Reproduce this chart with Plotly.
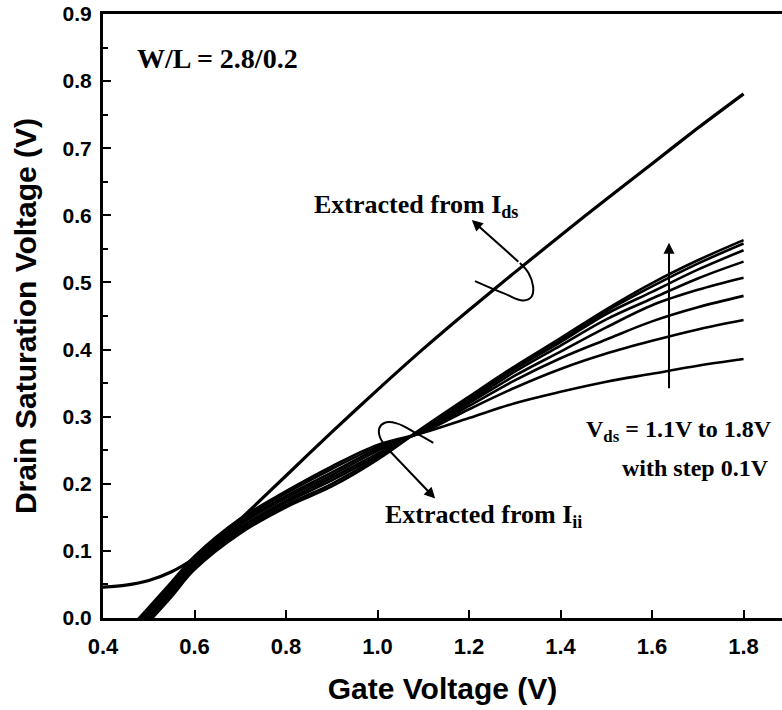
import plotly.graph_objects as go

# ---------------- data ----------------
vg_ids = [0.40, 0.45, 0.50, 0.55, 0.60, 0.65, 0.70, 0.80, 0.90, 1.00, 1.10, 1.20, 1.30, 1.40, 1.50, 1.60, 1.70, 1.80]
vdsat_ids = [0.046, 0.049, 0.056, 0.069, 0.089, 0.115, 0.147, 0.212, 0.277, 0.340, 0.401, 0.459, 0.515, 0.570, 0.624, 0.677, 0.730, 0.781]

vg_ii = [0.45, 0.50, 0.55, 0.60, 0.70, 0.80, 0.90, 1.00, 1.10, 1.20, 1.30, 1.40, 1.50, 1.60, 1.70, 1.80]
vds_labels = ["1.1", "1.2", "1.3", "1.4", "1.5", "1.6", "1.7", "1.8"]
vdsat_ii_11 = [-0.022, 0.016, 0.054, 0.092, 0.148, 0.189, 0.226, 0.258, 0.276, 0.298, 0.320, 0.337, 0.352, 0.364, 0.376, 0.386]
vdsat_ii_12 = [-0.025, 0.013, 0.051, 0.089, 0.145, 0.186, 0.222, 0.255, 0.277, 0.311, 0.343, 0.371, 0.394, 0.413, 0.430, 0.444]
vdsat_ii_13 = [-0.028, 0.010, 0.048, 0.086, 0.142, 0.182, 0.217, 0.252, 0.278, 0.316, 0.354, 0.387, 0.415, 0.442, 0.463, 0.480]
vdsat_ii_14 = [-0.031, 0.007, 0.045, 0.083, 0.139, 0.179, 0.213, 0.249, 0.279, 0.320, 0.361, 0.397, 0.433, 0.466, 0.489, 0.507]
vdsat_ii_15 = [-0.035, 0.003, 0.041, 0.081, 0.135, 0.175, 0.209, 0.245, 0.281, 0.323, 0.367, 0.406, 0.445, 0.476, 0.506, 0.531]
vdsat_ii_16 = [-0.038, 0.000, 0.038, 0.078, 0.132, 0.172, 0.205, 0.242, 0.282, 0.326, 0.371, 0.411, 0.453, 0.486, 0.519, 0.548]
vdsat_ii_17 = [-0.041, -0.003, 0.035, 0.075, 0.129, 0.168, 0.200, 0.239, 0.283, 0.328, 0.373, 0.414, 0.457, 0.494, 0.528, 0.558]
vdsat_ii_18 = [-0.044, -0.006, 0.032, 0.072, 0.126, 0.165, 0.196, 0.236, 0.284, 0.330, 0.375, 0.417, 0.460, 0.499, 0.533, 0.563]
vdsat_ii = [vdsat_ii_11, vdsat_ii_12, vdsat_ii_13, vdsat_ii_14,
            vdsat_ii_15, vdsat_ii_16, vdsat_ii_17, vdsat_ii_18]

x_ticks = [0.4, 0.6, 0.8, 1.0, 1.2, 1.4, 1.6, 1.8]
x_tick_text = ["0.4", "0.6", "0.8", "1.0", "1.2", "1.4", "1.6", "1.8"]
y_ticks = [0.0, 0.1, 0.2, 0.3, 0.4, 0.5, 0.6, 0.7, 0.8, 0.9]
y_tick_text = ["0.0", "0.1", "0.2", "0.3", "0.4", "0.5", "0.6", "0.7", "0.8", "0.9"]

# annotation loop guides (decorative)
ids_loop_x = [1.213, 1.275, 1.319, 1.337, 1.340, 1.330, 1.311]
ids_loop_y = [0.502, 0.484, 0.473, 0.479, 0.494, 0.514, 0.529]
ii_loop_x = [1.122, 1.085, 1.042, 1.016, 1.004, 1.005, 1.021]
ii_loop_y = [0.261, 0.275, 0.290, 0.291, 0.283, 0.270, 0.253]

# ---------------- figure ----------------
fig = go.Figure()

for lbl, ys in zip(vds_labels, vdsat_ii):
    fig.add_trace(go.Scatter(x=vg_ii, y=ys, mode="lines", name="Vds=" + lbl,
                             line=dict(color="black", width=2.6, shape="spline", smoothing=1.0),
                             showlegend=False, hoverinfo="skip"))

fig.add_trace(go.Scatter(x=vg_ids, y=vdsat_ids, mode="lines", name="Ids",
                         line=dict(color="black", width=3.2, shape="spline", smoothing=0.8),
                         showlegend=False, hoverinfo="skip"))

for lx, ly in [(ids_loop_x, ids_loop_y), (ii_loop_x, ii_loop_y)]:
    fig.add_trace(go.Scatter(x=lx, y=ly, mode="lines",
                             line=dict(color="black", width=2, shape="spline", smoothing=1.2),
                             showlegend=False, hoverinfo="skip"))

serif = dict(family="Liberation Serif, Times New Roman, serif", color="black", weight="bold")
sans = dict(family="Liberation Sans, Arial, sans-serif", color="black", weight="bold")

# arrows
arrows = [
    (1.206, 0.593, ids_loop_x[-1], ids_loop_y[-1]),
    (1.126, 0.178, ii_loop_x[-1], ii_loop_y[-1]),
    (1.637, 0.559, 1.637, 0.340),
]
for x, y, ax, ay in arrows:
    fig.add_annotation(x=x, y=y, ax=ax, ay=ay, xref="x", yref="y", axref="x", ayref="y",
                       text="", showarrow=True, arrowhead=2, arrowsize=1.1, arrowwidth=2,
                       arrowcolor="black", standoff=0, startstandoff=0)

texts = [
    (0.470, 0.833, "W/L = 2.8/0.2", 28, "left"),
    (0.857, 0.614, "Extracted from I<sub>ds</sub>", 26, "left"),
    (1.012, 0.152, "Extracted from I<sub>ii</sub>", 26, "left"),
    (1.866, 0.279, "V<sub>ds</sub> = 1.1V to 1.8V", 24, "right"),
    (1.860, 0.224, "with step 0.1V", 24, "right"),
]
for x, y, t, s, anc in texts:
    fig.add_annotation(x=x, y=y, xref="x", yref="y", text=t, showarrow=False,
                       xanchor=anc, yanchor="middle", font=dict(size=s, **serif))

fig.update_layout(
    width=782, height=710,
    margin=dict(l=103, r=0, t=14, b=92),
    plot_bgcolor="white", paper_bgcolor="white",
    showlegend=False,
)
fig.update_xaxes(
    range=[0.4, 1.884], tickvals=x_ticks, ticktext=x_tick_text,
    showline=True, linecolor="black", linewidth=3, mirror=True,
    ticks="inside", ticklen=8, tickwidth=2, tickcolor="black",
    showgrid=False, zeroline=False, ticklabelstandoff=7,
    tickfont=dict(size=22, **sans),
    title=dict(text="Gate Voltage (V)", font=dict(size=30, **sans), standoff=20),
)
fig.update_yaxes(
    range=[0.0, 0.9], tickvals=y_ticks, ticktext=y_tick_text,
    showline=True, linecolor="black", linewidth=3, mirror=False,
    ticks="inside", ticklen=8, tickwidth=2, tickcolor="black",
    minor=dict(ticks="inside", ticklen=5, tickwidth=2, tickcolor="black", dtick=0.05, showgrid=False),
    showgrid=False, zeroline=False, ticklabelstandoff=4,
    tickfont=dict(size=21, **sans),
    title=dict(text="Drain Saturation Voltage (V)", font=dict(size=30, **sans), standoff=18),
)

fig.write_html("out.html")
